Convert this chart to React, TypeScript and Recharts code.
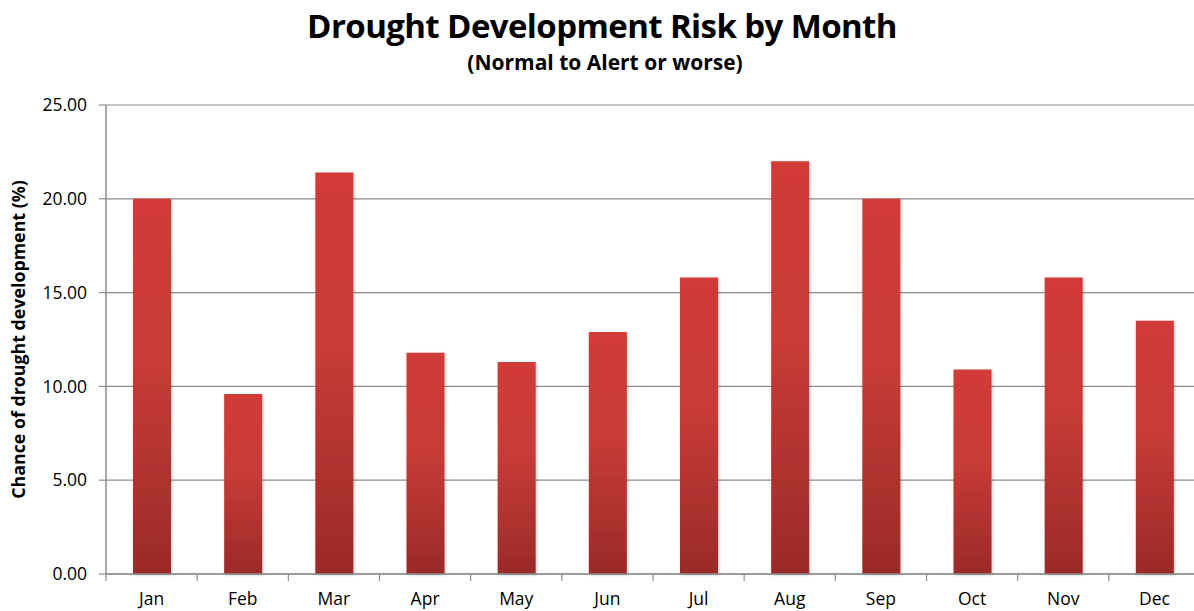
import React from 'react';
import { BarChart, Bar, XAxis, YAxis, CartesianGrid } from 'recharts';

const months = ['Jan', 'Feb', 'Mar', 'Apr', 'May', 'Jun', 'Jul', 'Aug', 'Sep', 'Oct', 'Nov', 'Dec'];
const risk = [20.0, 9.6, 21.4, 11.8, 11.3, 12.9, 15.8, 22.0, 20.0, 10.9, 15.8, 13.5];
const yTicks = [0, 5, 10, 15, 20, 25];

const data = months.map((m, i) => ({ month: m, risk: risk[i] }));

const FONT = '"Open Sans", "Liberation Sans", sans-serif';
const AXIS = '#8c8c8c';

const MonthTick = (props: any) => {
  const { x, y, payload } = props;
  const half = payload && payload.offset ? payload.offset : 0;
  return (
    <g>
      <line x1={x - half} y1={y - 16} x2={x - half} y2={y - 9} stroke={AXIS} strokeWidth={1.2} />
      <text x={x} y={y + 15} textAnchor="middle" fontSize={17.5} fill="#000" fontFamily={FONT}>
        {payload.value}
      </text>
    </g>
  );
};

export default function App() {
  return (
    <div style={{ position: 'fixed', left: 0, top: 0, width: 1194, height: 611, overflow: 'hidden', background: '#fff', fontFamily: FONT }}>
      <div style={{ position: 'absolute', left: 0, top: 3, width: 1204, textAlign: 'center', fontSize: 33, fontWeight: 700, color: '#000', letterSpacing: -0.6 }}>
        Drought Development Risk by Month
      </div>
      <div style={{ position: 'absolute', left: 0, top: 48, width: 1210, textAlign: 'center', fontSize: 21, fontWeight: 700, color: '#000' }}>
        (Normal to Alert or worse)
      </div>
      <div style={{ position: 'absolute', left: 0, top: 0 }}>
        <BarChart width={1210} height={611} data={data} margin={{ top: 105, right: 10, bottom: 7, left: 0 }} barSize={38}>
          <defs>
            <linearGradient id="barGrad" x1="0" y1="0" x2="0" y2="1">
              <stop offset="0%" stopColor="#d13b37" />
              <stop offset="45%" stopColor="#c73b37" />
              <stop offset="100%" stopColor="#9b2a28" />
            </linearGradient>
            <filter id="barShadow" x="-20%" y="-5%" width="140%" height="110%">
              <feDropShadow dx="1" dy="1" stdDeviation="1.5" floodColor="#000" floodOpacity="0.25" />
            </filter>
          </defs>
          <CartesianGrid vertical={false} stroke={AXIS} strokeWidth={1.2} />
          <XAxis
            dataKey="month"
            axisLine={{ stroke: AXIS, strokeWidth: 1.5 }}
            tickLine={false}
            tick={<MonthTick />}
            tickMargin={10}
            interval={0}
            height={30}
          />
          <YAxis
            domain={[0, 25]}
            ticks={yTicks}
            width={106}
            tickFormatter={(v: number) => v.toFixed(2)}
            axisLine={{ stroke: AXIS, strokeWidth: 1.5 }}
            tickLine={{ stroke: AXIS, strokeWidth: 1.2 }}
            tickSize={7}
            tickMargin={12}
            tick={{ fontSize: 17.5, fill: '#000', fontFamily: FONT }}
            label={{ value: 'Chance of drought development (%)', angle: -90, position: 'insideLeft', offset: 19, style: { textAnchor: 'middle', fontSize: 17.8, fontWeight: 700, fill: '#000', fontFamily: FONT } }}
          />
          <Bar dataKey="risk" fill="url(#barGrad)" filter="url(#barShadow)" isAnimationActive={false} />
        </BarChart>
      </div>
    </div>
  );
}
